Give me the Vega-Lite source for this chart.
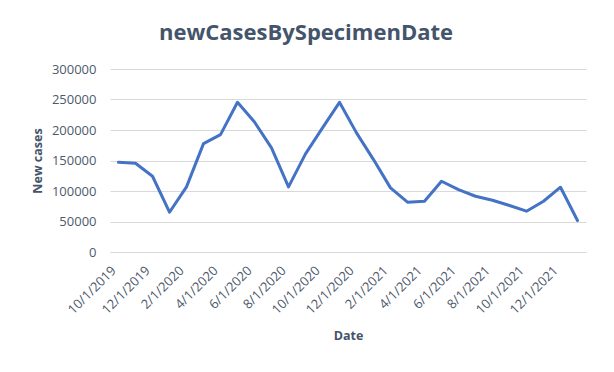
{
  "$schema": "https://vega.github.io/schema/vega-lite/v6.json",
  "autosize": "none",
  "width": 476,
  "height": 183,
  "padding": {"left": 110, "top": 69, "right": 28, "bottom": 120},
  "background": "white",
  "title": {
    "text": "newCasesBySpecimenDate",
    "font": "Open Sans",
    "fontSize": 22,
    "fontWeight": "bold",
    "color": "#44546A",
    "anchor": "middle",
    "dx": -42,
    "baseline": "alphabetic",
    "offset": 1
  },
  "data": {
    "values": [
      {"date": "10/1/2019", "cases": 147000},
      {"date": "11/1/2019", "cases": 145400},
      {"date": "12/1/2019", "cases": 124200},
      {"date": "1/1/2020", "cases": 65200},
      {"date": "2/1/2020", "cases": 106800},
      {"date": "3/1/2020", "cases": 177700},
      {"date": "4/1/2020", "cases": 192500},
      {"date": "5/1/2020", "cases": 245400},
      {"date": "6/1/2020", "cases": 213200},
      {"date": "7/1/2020", "cases": 170700},
      {"date": "8/1/2020", "cases": 106800},
      {"date": "9/1/2020", "cases": 160900},
      {"date": "10/1/2020", "cases": 203400},
      {"date": "11/1/2020", "cases": 245400},
      {"date": "12/1/2020", "cases": 195300},
      {"date": "1/1/2021", "cases": 151500},
      {"date": "2/1/2021", "cases": 105100},
      {"date": "3/1/2021", "cases": 81600},
      {"date": "4/1/2021", "cases": 83200},
      {"date": "5/1/2021", "cases": 116000},
      {"date": "6/1/2021", "cases": 102400},
      {"date": "7/1/2021", "cases": 91400},
      {"date": "8/1/2021", "cases": 84900},
      {"date": "9/1/2021", "cases": 76200},
      {"date": "10/1/2021", "cases": 66900},
      {"date": "11/1/2021", "cases": 83200},
      {"date": "12/1/2021", "cases": 106200},
      {"date": "1/1/2022", "cases": 51600}
    ]
  },
  "mark": {"type": "line", "color": "#4472C4", "strokeWidth": 3, "strokeJoin": "round", "strokeCap": "round"},
  "encoding": {
    "x": {
      "field": "date",
      "type": "ordinal",
      "sort": null,
      "scale": {"type": "point", "padding": 0.5},
      "axis": {
        "title": "Date",
        "values": ["10/1/2019", "12/1/2019", "2/1/2020", "4/1/2020", "6/1/2020", "8/1/2020", "10/1/2020", "12/1/2020", "2/1/2021", "4/1/2021", "6/1/2021", "8/1/2021", "10/1/2021", "12/1/2021"],
        "labelAngle": -45,
        "labelAlign": "right",
        "labelBaseline": "bottom",
        "labelPadding": 21,
        "labelFont": "Open Sans",
        "labelFontSize": 13,
        "labelColor": "#4D5A6C",
        "ticks": false,
        "domain": true,
        "domainColor": "#D9D9D9",
        "grid": false,
        "titleFont": "Open Sans",
        "titleFontSize": 12.5,
        "titleFontWeight": "bold",
        "titleColor": "#44546A",
        "titleX": 238,
        "titleY": 83,
        "titleBaseline": "middle"
      }
    },
    "y": {
      "field": "cases",
      "type": "quantitative",
      "scale": {"domain": [0, 300000], "nice": false},
      "axis": {
        "title": "New cases",
        "values": [0, 50000, 100000, 150000, 200000, 250000, 300000],
        "format": "d",
        "labelFont": "Open Sans",
        "labelFontSize": 13,
        "labelColor": "#4D5A6C",
        "labelPadding": 14,
        "ticks": false,
        "domain": false,
        "grid": true,
        "gridColor": "#D9D9D9",
        "gridWidth": 1,
        "titleFont": "Open Sans",
        "titleFontSize": 12.5,
        "titleFontWeight": "bold",
        "titleColor": "#44546A",
        "titleAngle": -90,
        "titleX": -73,
        "titleY": 91.5,
        "titleAlign": "center",
        "titleBaseline": "middle"
      }
    }
  },
  "config": {"view": {"stroke": null}}
}
